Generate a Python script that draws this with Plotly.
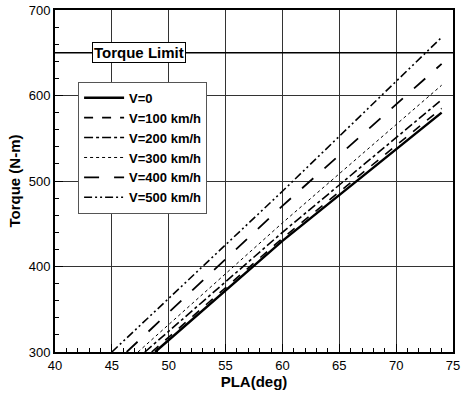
import plotly.graph_objects as go

# Data
series_names = ["V=0", "V=100 km/h", "V=200 km/h", "V=300 km/h", "V=400 km/h", "V=500 km/h"]
pla_v0 = [48.8, 60, 74]
tq_v0 = [300, 430, 580]
pla_v100 = [48.5, 60, 74]
tq_v100 = [300, 433, 585]
pla_v200 = [47.9, 60, 74]
tq_v200 = [300, 440, 595]
pla_v300 = [47.3, 60, 74]
tq_v300 = [300, 451, 612]
pla_v400 = [46.3, 60, 74]
tq_v400 = [300, 471, 637]
pla_v500 = [45.0, 60, 74]
tq_v500 = [300, 488, 668]
torque_limit = 650
x_ticks = [40, 45, 50, 55, 60, 65, 70, 75]
y_ticks = [300, 400, 500, 600, 700]

xs = [pla_v0, pla_v100, pla_v200, pla_v300, pla_v400, pla_v500]
ys = [tq_v0, tq_v100, tq_v200, tq_v300, tq_v400, tq_v500]
dashes = ["solid", "dash", "dashdot", "dot", "longdash", "8px,3px,2px,3px,2px,3px"]
widths = [2.5, 1.6, 1.6, 1.0, 1.8, 1.6]

fig = go.Figure()
for name, x, y, d, w in zip(series_names, xs, ys, dashes, widths):
    fig.add_trace(go.Scatter(x=x, y=y, mode="lines", name="<b>" + name + "</b>",
                             line=dict(color="black", dash=d, width=w)))

fig.add_shape(type="line", xref="paper", x0=0, x1=1, yref="y",
              y0=torque_limit, y1=torque_limit, line=dict(color="black", width=1.5))
fig.add_annotation(x=47.35, y=torque_limit, text="<b>Torque Limit</b>", showarrow=False,
                   font=dict(family="Arial, Liberation Sans", size=15, color="black"),
                   bgcolor="white", bordercolor="black", borderwidth=1, borderpad=1)

axis_common = dict(showline=True, linecolor="black", linewidth=2, mirror=True,
                   ticks="inside", ticklen=8, tickcolor="black",
                   showgrid=True, gridcolor="#333333", gridwidth=1,
                   zeroline=False, automargin=False,
                   tickfont=dict(family="Arial, Liberation Sans", size=13, color="black"))

fig.update_xaxes(range=[40, 75], tickvals=x_ticks,
                 title=dict(text="<b>PLA(deg)</b>", standoff=0,
                            font=dict(family="Arial, Liberation Sans", size=15, color="black")),
                 minor=dict(dtick=1, ticks="inside", ticklen=4, tickcolor="black", showgrid=False),
                 **axis_common)
fig.update_yaxes(range=[300, 700], tickvals=y_ticks,
                 title=dict(text="<b>Torque (N-m)</b>", standoff=4,
                            font=dict(family="Arial, Liberation Sans", size=15, color="black")),
                 minor=dict(dtick=20, ticks="inside", ticklen=4, tickcolor="black", showgrid=False),
                 **axis_common)

fig.update_layout(
    width=463, height=397,
    margin=dict(l=55, r=10, t=10, b=45),
    plot_bgcolor="white", paper_bgcolor="white",
    legend=dict(x=0.058, y=0.79, xanchor="left", yanchor="top",
                bgcolor="white", bordercolor="#555555", borderwidth=1,
                font=dict(family="Arial, Liberation Sans", size=13, color="black"),
                tracegroupgap=0, itemwidth=40),
    showlegend=True,
)

# remove the default page margin so the figure sits at the window's top-left corner
fig.write_html("out.html", config={"displayModeBar": False},
               post_script="document.body.style.margin='0';document.body.style.overflow='hidden';")
